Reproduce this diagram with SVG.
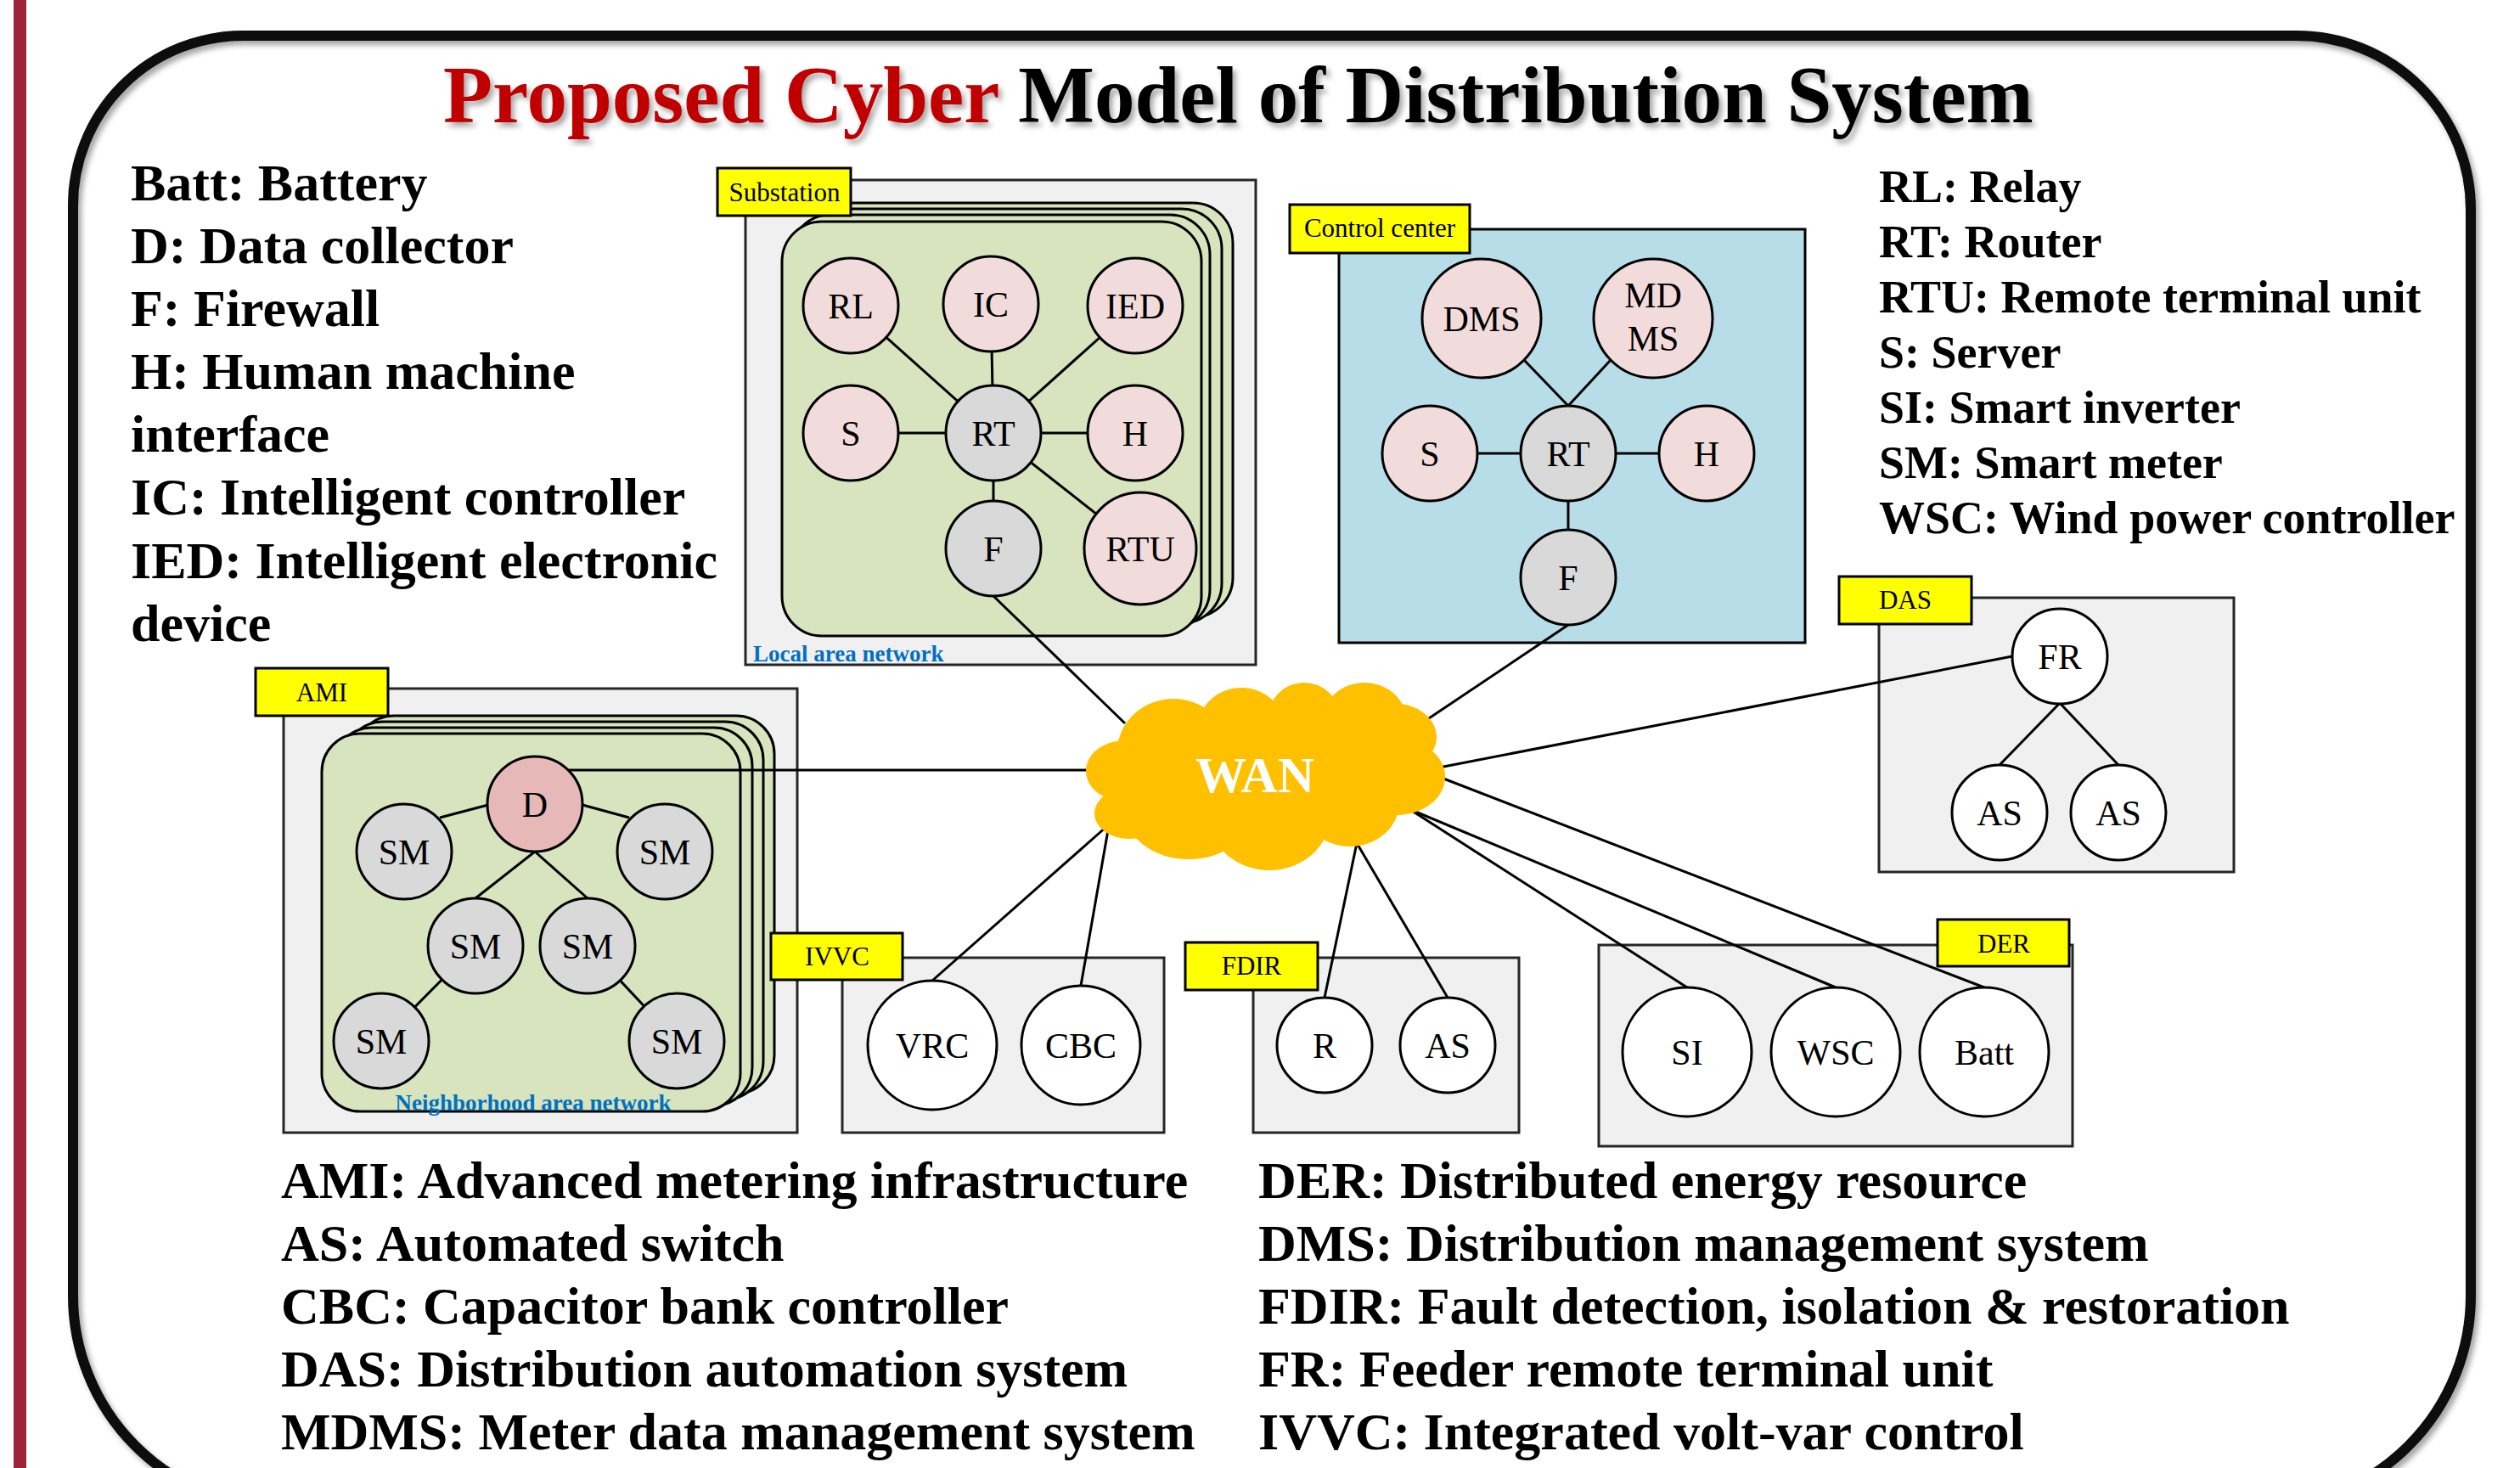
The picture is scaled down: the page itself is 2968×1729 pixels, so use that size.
<svg xmlns="http://www.w3.org/2000/svg" width="2968" height="1729" viewBox="0 0 2968 1729">
<defs>
<style>
.leg{font-family:"Liberation Serif","Times New Roman",serif;font-weight:bold;font-size:62px;fill:#000}
.legr{font-family:"Liberation Serif","Times New Roman",serif;font-weight:bold;font-size:54px;fill:#000}
.nl{font-family:"Liberation Serif","Times New Roman",serif;font-size:42px;text-anchor:middle;fill:#000}
.lab{fill:#FFFF00;stroke:#000;stroke-width:3}
.labt{font-family:"Liberation Serif","Times New Roman",serif;font-size:31px;text-anchor:middle;fill:#000}
.gbox{fill:#F0F0F0;stroke:#262626;stroke-width:3}
.green{fill:#D7E4BD;stroke:#000;stroke-width:3}
.pk{fill:#F2DCDB;stroke:#000;stroke-width:3}
.dk{fill:#E6B9B8;stroke:#000;stroke-width:3}
.gy{fill:#D9D9D9;stroke:#000;stroke-width:3}
.wh{fill:#FFFFFF;stroke:#000;stroke-width:3}
.net{font-family:"Liberation Serif","Times New Roman",serif;font-weight:bold;font-size:27px;fill:#0070C0}
#connectors line{stroke:#000;stroke-width:3}
.cl{fill:#FFC000}
</style>
<filter id="sh" x="-5%" y="-20%" width="110%" height="150%">
<feDropShadow dx="4" dy="5" stdDeviation="3" flood-color="#000" flood-opacity="0.35"/>
</filter>
</defs>
<rect x="0" y="0" width="2968" height="1729" fill="#FFFFFF"/>
<rect x="16" y="0" width="15" height="1729" fill="#9C2338"/>
<path d="M 286 42 H 2705 A 205 205 0 0 1 2910 247 V 1526 A 250 250 0 0 1 2660 1776 H 336 A 250 250 0 0 1 86 1526 V 242 A 200 200 0 0 1 286 42 Z" fill="none" stroke="#111" stroke-width="12" filter="url(#sh)"/>
<text x="522" y="144" filter="url(#sh)" font-family="'Liberation Serif','Times New Roman',serif" font-weight="bold" font-size="95"><tspan fill="#C00000">Proposed Cyber</tspan><tspan fill="#000"> Model of Distribution System</tspan></text>

<g id="legend-left">
<text class="leg" x="154" y="236">Batt: Battery</text>
<text class="leg" x="154" y="310">D: Data collector</text>
<text class="leg" x="154" y="384">F: Firewall</text>
<text class="leg" x="154" y="458">H: Human machine</text>
<text class="leg" x="154" y="532">interface</text>
<text class="leg" x="154" y="606">IC: Intelligent controller</text>
<text class="leg" x="154" y="681">IED: Intelligent electronic</text>
<text class="leg" x="154" y="755">device</text>
</g>
<g id="legend-right">
<text class="legr" x="2213" y="238">RL: Relay</text>
<text class="legr" x="2213" y="303">RT: Router</text>
<text class="legr" x="2213" y="368">RTU: Remote terminal unit</text>
<text class="legr" x="2213" y="433">S: Server</text>
<text class="legr" x="2213" y="498">SI: Smart inverter</text>
<text class="legr" x="2213" y="563">SM: Smart meter</text>
<text class="legr" x="2213" y="628">WSC: Wind power controller</text>
</g>
<g id="legend-bottom">
<text class="leg" x="331" y="1411">AMI: Advanced metering infrastructure</text>
<text class="leg" x="331" y="1485">AS: Automated switch</text>
<text class="leg" x="331" y="1559">CBC: Capacitor bank controller</text>
<text class="leg" x="331" y="1633">DAS: Distribution automation system</text>
<text class="leg" x="331" y="1707">MDMS: Meter data management system</text>
<text class="leg" x="1482" y="1411">DER: Distributed energy resource</text>
<text class="leg" x="1482" y="1485">DMS: Distribution management system</text>
<text class="leg" x="1482" y="1559">FDIR: Fault detection, isolation &amp; restoration</text>
<text class="leg" x="1482" y="1633">FR: Feeder remote terminal unit</text>
<text class="leg" x="1482" y="1707">IVVC: Integrated volt-var control</text>
</g>

<g id="substation">
<rect class="gbox" x="878" y="212" width="601" height="571"/>
<rect class="green" x="958" y="239" width="494" height="488" rx="47"/>
<rect class="green" x="945" y="246" width="494" height="488" rx="47"/>
<rect class="green" x="931" y="253" width="494" height="488" rx="47"/>
<rect class="green" x="921" y="261" width="494" height="488" rx="47"/>
<text class="net" x="887" y="779">Local area network</text>
<rect class="lab" x="845" y="198" width="157" height="56"/>
<text class="labt" x="924" y="237">Substation</text>
</g>
<g id="control-center">
<rect x="1577" y="270" width="549" height="487" fill="#B7DEE8" stroke="#000" stroke-width="3"/>
<rect class="lab" x="1519" y="241" width="212" height="57"/>
<text class="labt" x="1625" y="279">Control center</text>
</g>
<g id="ami">
<rect class="gbox" x="334" y="811" width="605" height="523"/>
<rect class="green" x="419" y="843" width="493" height="445" rx="45"/>
<rect class="green" x="406" y="850" width="493" height="445" rx="45"/>
<rect class="green" x="393" y="857" width="493" height="445" rx="45"/>
<rect class="green" x="379" y="864" width="493" height="445" rx="45"/>
<text class="net" x="628" y="1308" text-anchor="middle" font-size="28">Neighborhood area network</text>
<rect class="lab" x="301" y="787" width="156" height="56"/>
<text class="labt" x="379" y="826">AMI</text>
</g>
<g id="ivvc">
<rect class="gbox" x="992" y="1128" width="379" height="206"/>
<rect class="lab" x="908" y="1099" width="155" height="55"/>
<text class="labt" x="986" y="1137">IVVC</text>
</g>
<g id="fdir">
<rect class="gbox" x="1476" y="1128" width="313" height="206"/>
<rect class="lab" x="1396" y="1110" width="156" height="56"/>
<text class="labt" x="1474" y="1148">FDIR</text>
</g>
<g id="der">
<rect class="gbox" x="1883" y="1113" width="558" height="237"/>
<rect class="lab" x="2282" y="1083" width="155" height="55"/>
<text class="labt" x="2360" y="1122">DER</text>
</g>
<g id="das">
<rect class="gbox" x="2213" y="704" width="418" height="323"/>
<rect class="lab" x="2166" y="679" width="156" height="56"/>
<text class="labt" x="2244" y="717">DAS</text>
</g>

<g id="connectors">
<line x1="1170" y1="510" x2="1002" y2="360"/>
<line x1="1170" y1="510" x2="1167" y2="358"/>
<line x1="1170" y1="510" x2="1337" y2="360"/>
<line x1="1170" y1="510" x2="1002" y2="510"/>
<line x1="1170" y1="510" x2="1337" y2="510"/>
<line x1="1170" y1="510" x2="1170" y2="646"/>
<line x1="1170" y1="510" x2="1343" y2="646"/>
<line x1="1847" y1="478" x2="1795" y2="424"/>
<line x1="1847" y1="478" x2="1897" y2="424"/>
<line x1="1684" y1="534" x2="2010" y2="534"/>
<line x1="1847" y1="534" x2="1847" y2="680"/>
<line x1="575" y1="948" x2="518" y2="963"/>
<line x1="686" y1="948" x2="741" y2="963"/>
<line x1="630" y1="1003" x2="560" y2="1058"/>
<line x1="630" y1="1003" x2="692" y2="1058"/>
<line x1="560" y1="1114" x2="449" y2="1226"/>
<line x1="692" y1="1114" x2="797" y2="1226"/>
<line x1="2426" y1="828" x2="2355" y2="901"/>
<line x1="2426" y1="828" x2="2495" y2="901"/>
<line x1="1170" y1="702" x2="1325" y2="852"/>
<line x1="1847" y1="736" x2="1680" y2="848"/>
<line x1="670" y1="907" x2="1290" y2="907"/>
<line x1="1695" y1="904" x2="2370" y2="773"/>
<line x1="1695" y1="915" x2="2337" y2="1163"/>
<line x1="1660" y1="953" x2="2162" y2="1163"/>
<line x1="1660" y1="953" x2="1987" y2="1163"/>
<line x1="1598" y1="993" x2="1560" y2="1175"/>
<line x1="1598" y1="993" x2="1705" y2="1175"/>
<line x1="1305" y1="972" x2="1098" y2="1155"/>
<line x1="1306" y1="972" x2="1273" y2="1161"/>
</g>

<g id="wan">
<ellipse class="cl" cx="1490" cy="915" rx="175" ry="80"/>
<ellipse class="cl" cx="1325" cy="908" rx="46" ry="36"/>
<ellipse class="cl" cx="1330" cy="958" rx="41" ry="30"/>
<ellipse class="cl" cx="1400" cy="955" rx="75" ry="57"/>
<ellipse class="cl" cx="1495" cy="960" rx="72" ry="65"/>
<ellipse class="cl" cx="1590" cy="945" rx="58" ry="52"/>
<ellipse class="cl" cx="1645" cy="915" rx="57" ry="45"/>
<ellipse class="cl" cx="1640" cy="868" rx="52" ry="40"/>
<ellipse class="cl" cx="1607" cy="850" rx="50" ry="46"/>
<ellipse class="cl" cx="1536" cy="845" rx="42" ry="41"/>
<ellipse class="cl" cx="1462" cy="855" rx="50" ry="45"/>
<ellipse class="cl" cx="1382" cy="885" rx="66" ry="62"/>
<text x="1478" y="933" text-anchor="middle" font-family="'Liberation Serif','Times New Roman',serif" font-weight="bold" font-size="60" fill="#FFFFFF">WAN</text>
</g>

<g id="sub-RL"><circle class="pk" cx="1002" cy="360" r="56"/><text class="nl" x="1002" y="375">RL</text></g>
<g id="sub-IC"><circle class="pk" cx="1167" cy="358" r="56"/><text class="nl" x="1167" y="373">IC</text></g>
<g id="sub-IED"><circle class="pk" cx="1337" cy="360" r="56"/><text class="nl" x="1337" y="375">IED</text></g>
<g id="sub-S"><circle class="pk" cx="1002" cy="510" r="56"/><text class="nl" x="1002" y="525">S</text></g>
<g id="sub-RT"><circle class="gy" cx="1170" cy="510" r="56"/><text class="nl" x="1170" y="525">RT</text></g>
<g id="sub-H"><circle class="pk" cx="1337" cy="510" r="56"/><text class="nl" x="1337" y="525">H</text></g>
<g id="sub-F"><circle class="gy" cx="1170" cy="646" r="56"/><text class="nl" x="1170" y="661">F</text></g>
<g id="sub-RTU"><circle class="pk" cx="1343" cy="646" r="66"/><text class="nl" x="1343" y="661">RTU</text></g>

<g id="cc-DMS"><circle class="pk" cx="1745" cy="375" r="70"/><text class="nl" x="1745" y="390">DMS</text></g>
<g id="cc-MDMS"><circle class="pk" cx="1947" cy="375" r="70"/><text class="nl" x="1947" y="362">MD</text><text class="nl" x="1947" y="413">MS</text></g>
<g id="cc-S"><circle class="pk" cx="1684" cy="534" r="56"/><text class="nl" x="1684" y="549">S</text></g>
<g id="cc-RT"><circle class="gy" cx="1847" cy="534" r="56"/><text class="nl" x="1847" y="549">RT</text></g>
<g id="cc-H"><circle class="pk" cx="2010" cy="534" r="56"/><text class="nl" x="2010" y="549">H</text></g>
<g id="cc-F"><circle class="gy" cx="1847" cy="680" r="56"/><text class="nl" x="1847" y="695">F</text></g>

<g id="ami-D"><circle class="dk" cx="630" cy="947" r="56"/><text class="nl" x="630" y="962">D</text></g>
<g id="ami-SM1"><circle class="gy" cx="476" cy="1003" r="56"/><text class="nl" x="476" y="1018">SM</text></g>
<g id="ami-SM2"><circle class="gy" cx="783" cy="1003" r="56"/><text class="nl" x="783" y="1018">SM</text></g>
<g id="ami-SM3"><circle class="gy" cx="560" cy="1114" r="56"/><text class="nl" x="560" y="1129">SM</text></g>
<g id="ami-SM4"><circle class="gy" cx="692" cy="1114" r="56"/><text class="nl" x="692" y="1129">SM</text></g>
<g id="ami-SM5"><circle class="gy" cx="449" cy="1226" r="56"/><text class="nl" x="449" y="1241">SM</text></g>
<g id="ami-SM6"><circle class="gy" cx="797" cy="1226" r="56"/><text class="nl" x="797" y="1241">SM</text></g>

<g id="ivvc-VRC"><circle class="wh" cx="1098" cy="1231" r="76"/><text class="nl" x="1098" y="1246">VRC</text></g>
<g id="ivvc-CBC"><circle class="wh" cx="1273" cy="1231" r="70"/><text class="nl" x="1273" y="1246">CBC</text></g>
<g id="fdir-R"><circle class="wh" cx="1560" cy="1231" r="56"/><text class="nl" x="1560" y="1246">R</text></g>
<g id="fdir-AS"><circle class="wh" cx="1705" cy="1231" r="56"/><text class="nl" x="1705" y="1246">AS</text></g>
<g id="der-SI"><circle class="wh" cx="1987" cy="1239" r="76"/><text class="nl" x="1987" y="1254">SI</text></g>
<g id="der-WSC"><circle class="wh" cx="2162" cy="1239" r="76"/><text class="nl" x="2162" y="1254">WSC</text></g>
<g id="der-Batt"><circle class="wh" cx="2337" cy="1239" r="76"/><text class="nl" x="2337" y="1254">Batt</text></g>
<g id="das-FR"><circle class="wh" cx="2426" cy="773" r="56"/><text class="nl" x="2426" y="788">FR</text></g>
<g id="das-AS1"><circle class="wh" cx="2355" cy="957" r="56"/><text class="nl" x="2355" y="972">AS</text></g>
<g id="das-AS2"><circle class="wh" cx="2495" cy="957" r="56"/><text class="nl" x="2495" y="972">AS</text></g>
</svg>
